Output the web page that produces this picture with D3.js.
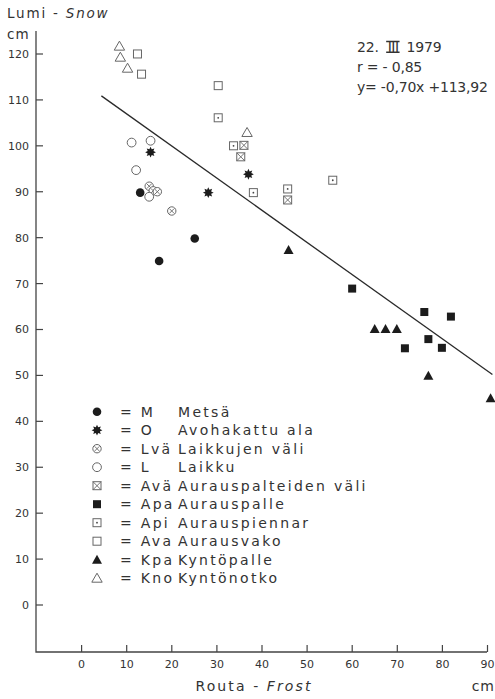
<!DOCTYPE html>
<html>
<head>
<meta charset="utf-8">
<script src="https://cdn.jsdelivr.net/npm/d3@7"></script>
<style>
  html, body { margin: 0; padding: 0; background: #fff; }
  svg { display: block; }
  text { font-family: "DejaVu Sans", sans-serif; fill: #333; }
</style>
</head>
<body>
<svg id="chart" width="495" height="699"></svg>
<script>
// Frost depth (x, cm) and snow depth (y, cm) per site type, 22 March 1979
const metsa = [[13.1, 89.7], [17.3, 74.8], [25.2, 79.7]];
const avohakattu = [[15.4, 98.5], [28.2, 89.7], [37.1, 93.7]];
const laikkujenVali = [[15.1, 91.1], [16.0, 90.1], [16.9, 89.9], [20.1, 85.7]];
const laikku = [[11.2, 100.6], [15.4, 101.0], [12.2, 94.6], [15.1, 88.8]];
const aurausVali = [[36.1, 100.0], [35.4, 97.5], [45.8, 88.1]];
const aurauspalle = [[60.1, 68.8], [76.1, 63.7], [82.0, 62.7], [77.0, 57.8], [71.8, 55.8], [80.0, 55.9]];
const auraspiennar = [[30.4, 106.0], [33.8, 99.9], [38.2, 89.7], [45.8, 90.5], [55.8, 92.4]];
const aurausvako = [[12.5, 119.9], [13.4, 115.5], [30.4, 113.0]];
const kyntopalle = [[46.0, 77.2], [65.1, 60.0], [67.5, 60.0], [70.0, 60.0], [77.0, 49.8], [90.8, 44.9]];
const kyntonotko = [[8.5, 121.6], [8.7, 119.2], [10.3, 116.8], [36.8, 102.8]];

const codes = ["M", "O", "Lvä", "L", "Avä", "Apa", "Api", "Ava", "Kpa", "Kno"];
const names = ["Metsä", "Avohakattu ala", "Laikkujen väli", "Laikku", "Aurauspalteiden väli",
               "Aurauspalle", "Aurauspiennar", "Aurausvako", "Kyntöpalle", "Kyntönotko"];
const symbols = ["disc", "star", "circleX", "circle", "squareX", "squareFill", "squareDot", "square", "triFill", "tri"];
const seriesData = [metsa, avohakattu, laikkujenVali, laikku, aurausVali,
                    aurauspalle, auraspiennar, aurausvako, kyntopalle, kyntonotko];

const xTicks = [0, 10, 20, 30, 40, 50, 60, 70, 80, 90];
const yTicks = [0, 10, 20, 30, 40, 50, 60, 70, 80, 90, 100, 110, 120];

// Regression y = -0,70x + 113,92 and its drawn x-extent
const slope = -0.70, intercept = 113.92;
const lineExtent = [4.5, 91.2];

const svg = d3.select("#chart");
const x = d3.scaleLinear().domain([-10, 90]).range([36, 487]);
const y = d3.scaleLinear().domain([0, 120]).range([604.5, 53.5]);
const yBottom = -10.35, yTop = 124.9;

const dark = "#1c1c1c", grey = "#666";

// Axes
const xAxis = d3.axisBottom(x).tickValues(xTicks).tickSize(-7).tickPadding(13).tickFormat(d3.format("d"));
const yAxis = d3.axisLeft(y).tickValues(yTicks).tickSize(-7).tickPadding(13).tickFormat(d3.format("d"));

const gx = svg.append("g").attr("transform", `translate(0,${y(yBottom)})`).call(xAxis);
const gy = svg.append("g").attr("transform", `translate(${x(-10)},0)`).call(yAxis);
[gx, gy].forEach(g => {
  g.select(".domain").remove();
  g.selectAll(".tick line").attr("stroke", "#444").attr("stroke-width", 1.2);
  g.selectAll(".tick text").style("font-family", "DejaVu Sans, sans-serif")
    .style("font-size", "11px").attr("fill", "#555");
});
gy.selectAll(".tick text").attr("x", -7).attr("dy", "0.36em");
gx.selectAll(".tick text").attr("y", 8).attr("dy", "0.71em");

// Axis lines (L shape)
svg.append("path")
  .attr("d", `M${x(-10)},${y(yTop)}V${y(yBottom)}H${x(90)}`)
  .attr("fill", "none").attr("stroke", "#444").attr("stroke-width", 1.3);

// Axis titles
const yTitle = svg.append("text").attr("x", 7).attr("y", 18).style("font-size", "13.5px").style("letter-spacing", "1.8px");
yTitle.append("tspan").text("Lumi - ");
yTitle.append("tspan").style("font-style", "italic").text("Snow");
svg.append("text").attr("x", 7).attr("y", 39).style("font-size", "13.5px").style("letter-spacing", "1px").text("cm");

const xTitle = svg.append("text").attr("x", 254).attr("y", 691).attr("text-anchor", "middle")
  .style("font-size", "14px").style("letter-spacing", "2.1px");
xTitle.append("tspan").text("Routa - ");
xTitle.append("tspan").style("font-style", "italic").text("Frost");
svg.append("text").attr("x", 495).attr("y", 691).attr("text-anchor", "end")
  .style("font-size", "14px").style("letter-spacing", "1px").text("cm");

// Date and statistics block
const hdr = svg.append("g").style("font-size", "14px").style("letter-spacing", "-0.2px");
const t1 = hdr.append("text").attr("x", 357).attr("y", 52).text("22.");
const romanX = 357 + t1.node().getComputedTextLength() + 9;
const t2 = hdr.append("text").attr("x", romanX).attr("y", 52).style("letter-spacing", "-0.5px").text("III");
const rw = t2.node().getComputedTextLength();
hdr.append("path")
  .attr("d", `M${romanX - 1.5},${41.5}h${rw + 2.5}M${romanX - 1.5},${52.2}h${rw + 2.5}`)
  .attr("stroke", "#333").attr("stroke-width", 1.4);
hdr.append("text").attr("x", romanX + rw + 8).attr("y", 52).text("1979");
hdr.append("text").attr("x", 357).attr("y", 72).text("r = - 0,85");
hdr.append("text").attr("x", 357).attr("y", 92).text("y= -0,70x +113,92");

// Marker drawing
function drawSymbol(g, type, cx, cy) {
  const s = 4;
  switch (type) {
    case "disc":
      g.append("circle").attr("cx", cx).attr("cy", cy).attr("r", 4.3).attr("fill", dark);
      break;
    case "star": {
      const pts = d3.range(16).map(i => {
        const a = Math.PI * i / 8, r = i % 2 ? 3.1 : 5.4;
        return [cx + r * Math.sin(a), cy - r * Math.cos(a)];
      });
      g.append("polygon").attr("points", pts.map(p => p.join(",")).join(" ")).attr("fill", dark);
      break;
    }
    case "circle":
      g.append("circle").attr("cx", cx).attr("cy", cy).attr("r", 4.4)
        .attr("fill", "#fff").attr("stroke", grey).attr("stroke-width", 1);
      break;
    case "circleX": {
      g.append("circle").attr("cx", cx).attr("cy", cy).attr("r", 4.2)
        .attr("fill", "#fff").attr("stroke", grey).attr("stroke-width", 1);
      const d = 2.4;
      g.append("path").attr("d", `M${cx - d},${cy - d}L${cx + d},${cy + d}M${cx - d},${cy + d}L${cx + d},${cy - d}`)
        .attr("stroke", grey).attr("stroke-width", 0.9);
      break;
    }
    case "square":
      g.append("rect").attr("x", cx - s).attr("y", cy - s).attr("width", 2 * s).attr("height", 2 * s)
        .attr("fill", "#fff").attr("stroke", grey).attr("stroke-width", 1);
      break;
    case "squareFill":
      g.append("rect").attr("x", cx - s).attr("y", cy - s).attr("width", 2 * s).attr("height", 2 * s)
        .attr("fill", dark);
      break;
    case "squareDot":
      g.append("rect").attr("x", cx - s).attr("y", cy - s).attr("width", 2 * s).attr("height", 2 * s)
        .attr("fill", "#fff").attr("stroke", grey).attr("stroke-width", 1);
      g.append("circle").attr("cx", cx).attr("cy", cy).attr("r", 0.9).attr("fill", "#444");
      break;
    case "squareX":
      g.append("rect").attr("x", cx - s).attr("y", cy - s).attr("width", 2 * s).attr("height", 2 * s)
        .attr("fill", "#fff").attr("stroke", grey).attr("stroke-width", 1);
      g.append("path").attr("d", `M${cx - s},${cy - s}L${cx + s},${cy + s}M${cx - s},${cy + s}L${cx + s},${cy - s}`)
        .attr("stroke", grey).attr("stroke-width", 0.9);
      break;
    case "triFill":
      g.append("path").attr("d", `M${cx},${cy - 5}L${cx + 5},${cy + 4}L${cx - 5},${cy + 4}Z`).attr("fill", dark);
      break;
    case "tri":
      g.append("path").attr("d", `M${cx},${cy - 5}L${cx + 5.2},${cy + 4}L${cx - 5.2},${cy + 4}Z`)
        .attr("fill", "none").attr("stroke", grey).attr("stroke-width", 1);
      break;
  }
}

// Regression line
svg.append("line")
  .attr("x1", x(lineExtent[0])).attr("y1", y(slope * lineExtent[0] + intercept))
  .attr("x2", x(lineExtent[1])).attr("y2", y(slope * lineExtent[1] + intercept))
  .attr("stroke", "#2a2a2a").attr("stroke-width", 1.3);

// Data points
const pts = svg.append("g");
seriesData.forEach((arr, i) => {
  arr.forEach(([fx, sy]) => drawSymbol(pts, symbols[i], x(fx), y(sy)));
});

// Legend
const legend = svg.append("g").style("font-size", "14px").style("letter-spacing", "2.3px");
codes.forEach((c, i) => {
  const cy = 411.7 + i * 18.5;
  drawSymbol(legend, symbols[i], 97, cy);
  legend.append("text").attr("x", 120).attr("y", cy + 5).text("= " + c);
  legend.append("text").attr("x", 178).attr("y", cy + 5).text(names[i]);
});
</script>
</body>
</html>
